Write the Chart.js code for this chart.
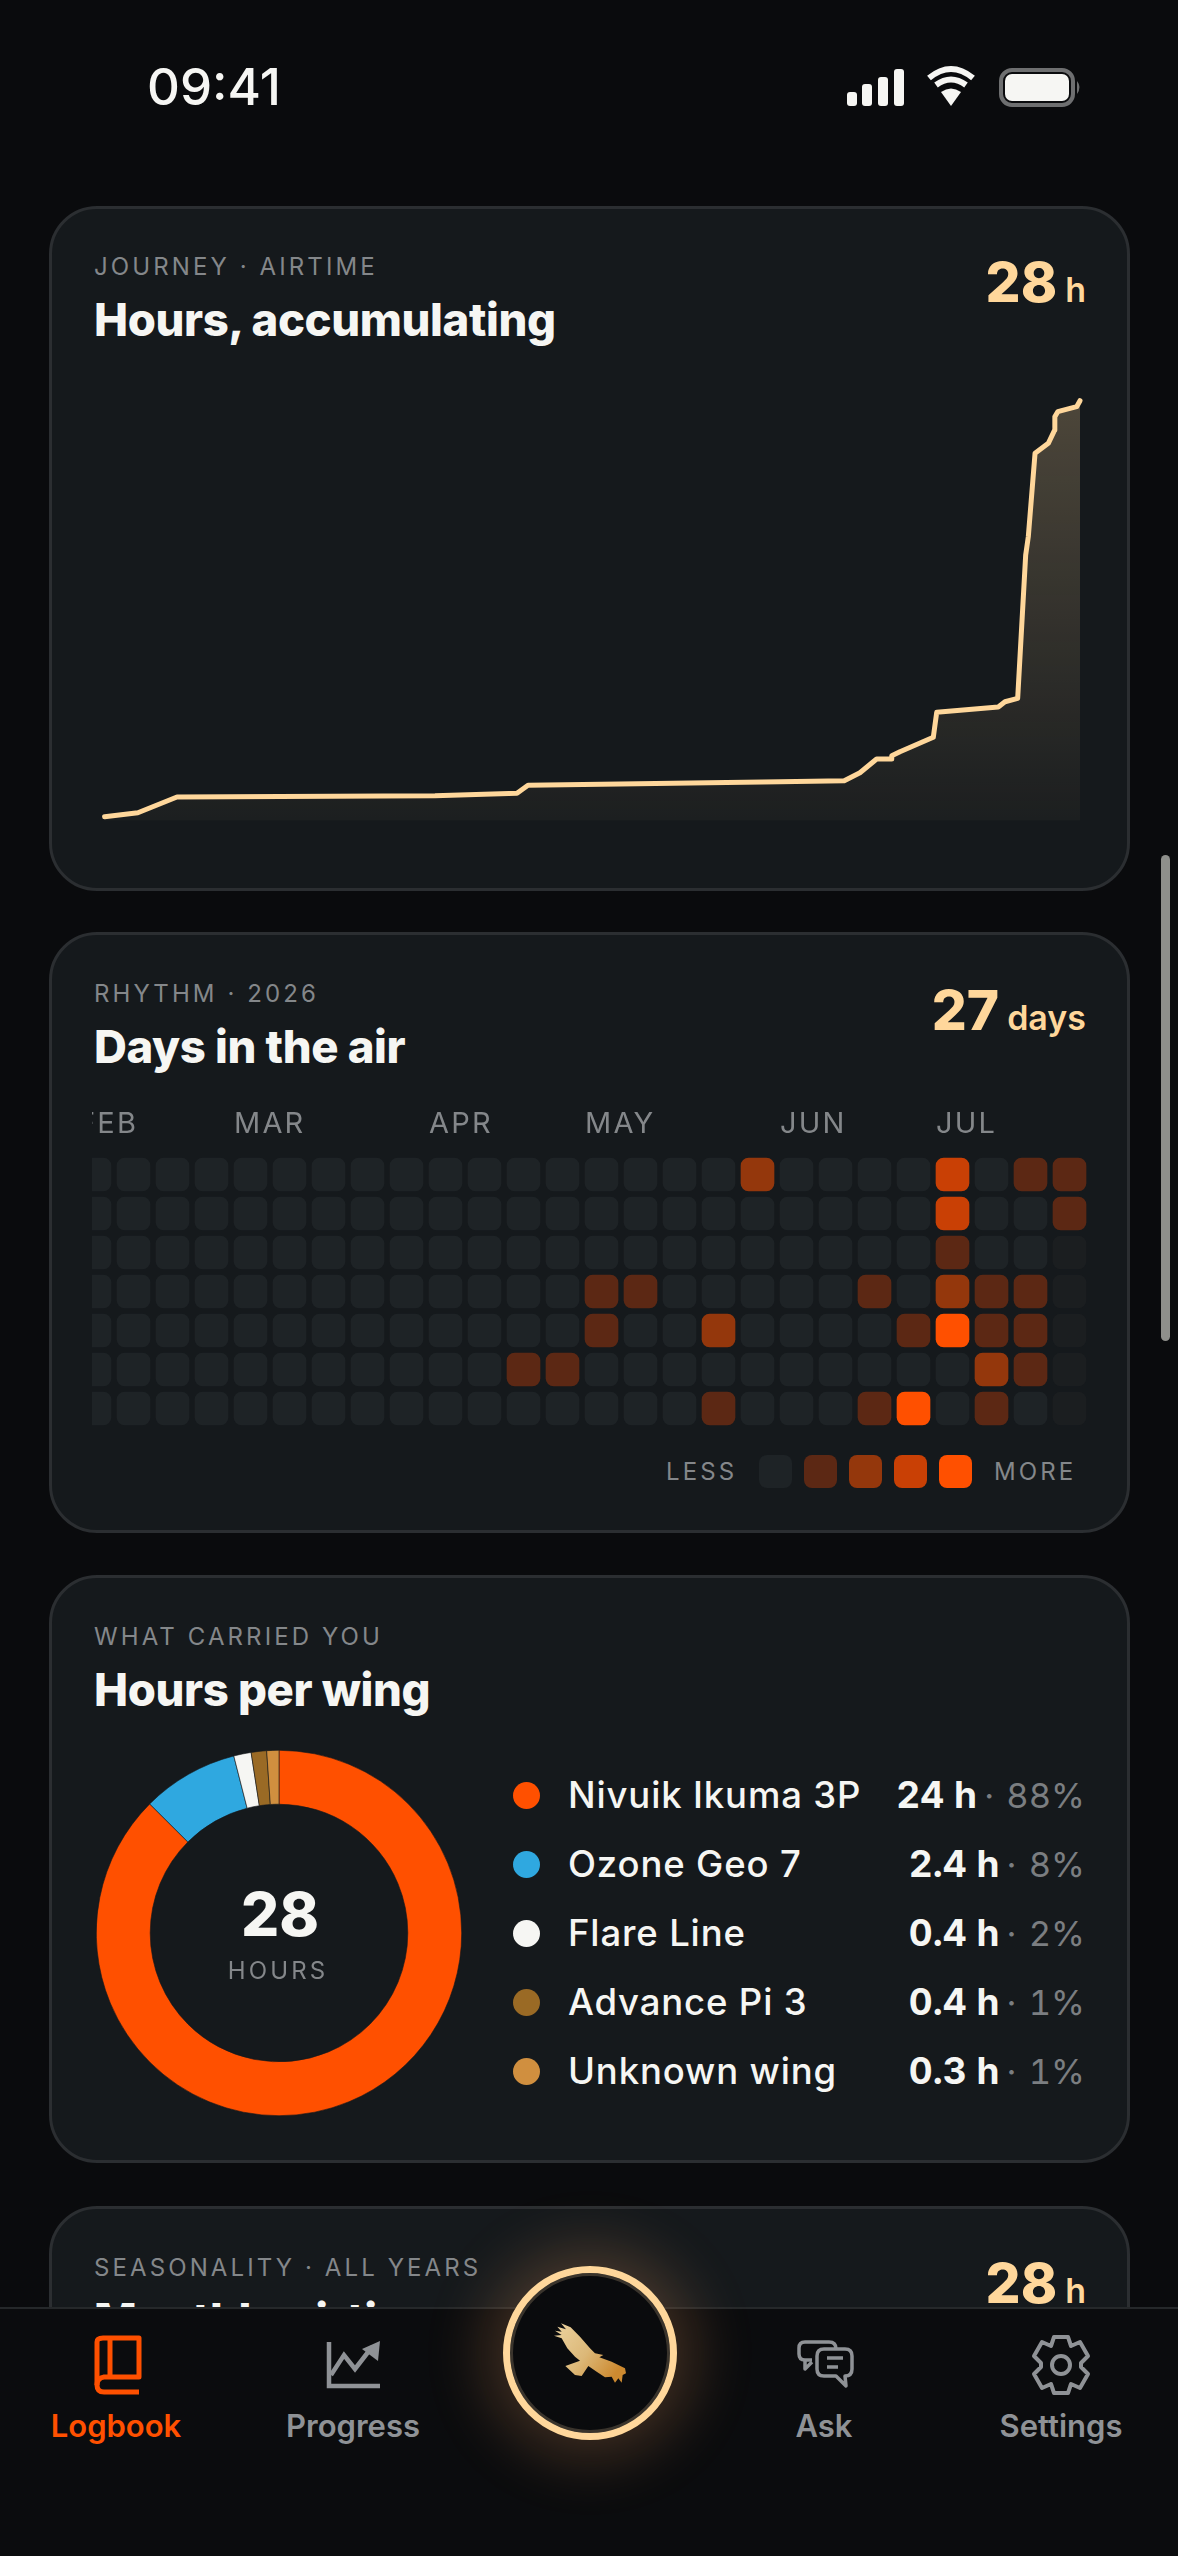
<!DOCTYPE html>
<html>
<head>
<meta charset="utf-8">
<title>Logbook</title>
<script src="https://cdn.jsdelivr.net/npm/chart.js@4/dist/chart.umd.min.js"></script>
<style>
  html, body { margin: 0; padding: 0; background: #0a0b0d; }
  #stage { position: relative; width: 1178px; height: 2556px; overflow: hidden; background: #0a0b0d; font-family: Inter, sans-serif; color: #f6f6f3; }
  .card { position: absolute; left: 49px; width: 1075px; background: #15191c; border: 3px solid #2b2e31; border-radius: 48px; }
  .t { position: absolute; line-height: 0; white-space: nowrap; margin: 0; }
  .eyebrow { left: 94px; font-size: 24px; letter-spacing: 3.1px; color: #84878a; font-weight: 400; }
  .title { left: 94px; font-size: 45.5px; font-weight: 800; letter-spacing: -0.4px; }
  .big { right: 92px; font-size: 55px; font-weight: 800; color: #ffd79b; }
  .big small { font-size: 34px; font-weight: 600; margin-left: 8px; }
  canvas { position: absolute; display: block; }
  #heatClip { position: absolute; left: 92px; top: 1100px; width: 1010px; height: 340px; overflow: hidden; }
  #heatChart { left: -17px; top: 0; }
  .swatch { position: absolute; top: 1455px; width: 33px; height: 33px; border-radius: 8px; }
  .lg { font-size: 24px; letter-spacing: 3.1px; color: #84878a; }
  .dot { position: absolute; left: 513px; width: 27px; height: 27px; border-radius: 50%; }
  .wing { left: 568px; font-size: 36.5px; font-weight: 500; letter-spacing: 0.85px; }
  .val { right: 93px; font-size: 37px; font-weight: 700; font-variant-numeric: tabular-nums; }
  .val span { font-size: 34.5px; font-weight: 400; color: #7b7e81; margin-left: 7px; }
  .val span b { font-weight: 400; margin-right: 3px; }
  #nav { position: absolute; left: 0; top: 2307px; width: 1178px; height: 249px; background: #0b0c0e; border-top: 2px solid #25282a; box-sizing: border-box; }
  #scroll { position: absolute; left: 1161px; top: 855px; width: 9px; height: 486px; border-radius: 5px; background: #8e8f8b; }
  #fab { position: absolute; left: 503px; top: 2266px; width: 174px; height: 174px; box-sizing: border-box; border-radius: 50%; background: #0a0b0d; border: 7px solid #ffd79b; box-shadow: 0 0 60px 18px rgba(255, 170, 100, .22), inset 0 0 0 3px #3a342c; }
  .tab { top: 2426px; font-size: 31px; font-weight: 600; color: #8f9296; transform: translateX(-50%); }
  svg { position: absolute; overflow: visible; }
</style>
</head>
<body>
<div id="stage">
  <div class="t" style="left:147px;top:87px;font-size:51px;font-weight:500;">09:41</div>
  <svg style="left:0;top:0" width="1178" height="120">
    <g fill="#f6f6f3">
      <rect x="847" y="92" width="10" height="14" rx="3"/><rect x="862" y="84" width="10" height="22" rx="3"/>
      <rect x="878" y="77" width="10" height="29" rx="3"/><rect x="894" y="69" width="10" height="37" rx="3"/>
      <path d="M951 106 L941 92 Q951 85 961 92 Z"/>
    </g>
    <g fill="none" stroke="#f6f6f3" stroke-width="6">
      <path d="M936 85 Q951 74 966 85"/><path d="M929 78 Q951 60 973 78"/>
    </g>
    <rect x="1001" y="70" width="72" height="35" rx="11" fill="none" stroke="#6e6f70" stroke-width="4"/>
    <rect x="1005" y="74" width="64" height="27" rx="7" fill="#f6f6f3"/>
    <path d="M1077 81 Q1082 87 1077 94 Z" fill="#6e6f70"/>
  </svg>

  <div class="card" style="top:206px;height:679px;"></div>
  <div class="t eyebrow" style="top:267px;">JOURNEY · AIRTIME</div>
  <div class="t title" style="top:320px;">Hours, accumulating</div>
  <div class="t big" style="top:282px;">28<small>h</small></div>
  <canvas id="hoursChart" style="left:60px;top:380px;" width="1060" height="460"></canvas>

  <div class="card" style="top:932px;height:595px;"></div>
  <div class="t eyebrow" style="top:994px;">RHYTHM · 2026</div>
  <div class="t title" style="top:1047px;">Days in the air</div>
  <div class="t big" style="top:1010px;">27<small>days</small></div>
  <div id="heatClip"><canvas id="heatChart" width="1014" height="328"></canvas></div>
  <div class="t lg" style="left:666px;top:1472px;">LESS</div>
  <div class="swatch" style="left:759px;background:#1e2326"></div>
  <div class="swatch" style="left:804px;background:#5c2814"></div>
  <div class="swatch" style="left:849px;background:#94370c"></div>
  <div class="swatch" style="left:894px;background:#c94005"></div>
  <div class="swatch" style="left:939px;background:#ff5000"></div>
  <div class="t lg" style="left:994px;top:1472px;">MORE</div>

  <div class="card" style="top:1575px;height:582px;"></div>
  <div class="t eyebrow" style="top:1637px;">WHAT CARRIED YOU</div>
  <div class="t title" style="top:1690px;">Hours per wing</div>
  <canvas id="wingChart" style="left:86px;top:1740px;" width="386" height="386"></canvas>
  <div class="t" style="left:280px;top:1914px;font-size:60px;font-weight:800;transform:translateX(-50%);">28</div>
  <div class="t" style="left:278px;top:1971px;font-size:24px;letter-spacing:3.1px;color:#84878a;transform:translateX(-50%);">HOURS</div>
  <div id="wingLegend"></div>

  <div class="card" style="top:2206px;height:500px;"></div>
  <div class="t eyebrow" style="top:2268px;">SEASONALITY · ALL YEARS</div>
  <div class="t title" style="top:2320px;">Monthly airtime</div>
  <div class="t big" style="top:2283px;">28<small>h</small></div>

  <div id="scroll"></div>
  <div id="nav"></div>
  <div id="fab"></div>
  <svg style="left:480px;top:2240px" width="220" height="220" viewBox="0 0 660 660">
    <defs><linearGradient id="birdFill" x1="0" y1="0" x2="1" y2="0.6">
      <stop offset="0" stop-color="#ecd3a0"/><stop offset="0.55" stop-color="#dcb878"/><stop offset="1" stop-color="#cd8a30"/>
    </linearGradient></defs>
    <path fill="url(#birdFill)" d="M243 250 L272 262 L300 290 L330 325 L345 340 L370 345 L358 352 L395 365 L435 385 L438 400 L428 405 L425 428 L415 415 L405 428 L395 410 L375 412 L350 395 L325 378 L305 408 L285 405 L256 378 L300 362 L285 350 L262 325 L245 295 L222 287 L245 285 L225 272 L245 275 L232 260 L258 268 Z"/>
  </svg>

  <svg style="left:0;top:2307px" width="1178" height="110">
    <g fill="none" stroke="#ff5000" stroke-width="5" stroke-linejoin="round">
      <path d="M97 35 Q97 31 103 31 L139 31 L139 70 L104 70 Q97 71 97 78 Q97 85 104 85 L139 85"/>
      <path d="M97 35 L97 78"/><path d="M110 31 L110 70"/>
    </g>
    <g fill="none" stroke="#8f9296" stroke-width="4.5" stroke-linejoin="miter">
      <path d="M329 35 L329 79 L380 79"/>
      <path d="M331 68 L344 48 L355 62 L372 40"/>
    </g>
    <path d="M362 42 L380 34 L378 54 Z" fill="#8f9296"/>
    <g fill="none" stroke="#8f9296" stroke-width="3.5" stroke-linejoin="round">
      <path d="M812 53 L805 53 Q799 53 799 47 L799 41 Q799 35 805 35 L829 35 Q836 35 836 42"/>
      <path d="M805 53 L805 62 L812 55"/>
      <path d="M824 42 L845 42 Q852 42 852 49 L852 62 Q852 69 845 69 L846 79 L836 69 L824 69 Q817 69 817 62 L817 49 Q817 42 824 42 Z"/>
      <path d="M827 51 L843 51 M827 60 L838 60"/>
    </g>
    <g fill="none" stroke="#8f9296" stroke-width="4" stroke-linejoin="round">
      <circle cx="1061" cy="58" r="9"/>
      <path d="M1054 30 L1068 30 L1071 39 L1080 35 L1088 49 L1081 56 L1081 60 L1088 67 L1080 81 L1071 77 L1068 86 L1054 86 L1051 77 L1042 81 L1034 67 L1041 60 L1041 56 L1034 49 L1042 35 L1051 39 Z"/>
    </g>
  </svg>
  <div class="t tab" style="left:116px;color:#ff5000;">Logbook</div>
  <div class="t tab" style="left:353px;">Progress</div>
  <div class="t tab" style="left:824px;">Ask</div>
  <div class="t tab" style="left:1061px;">Settings</div>
</div>

<script>
// airtime curve, x = percent of the logbook span, y = cumulative hours
const journeyPos = [0, 3.41, 7.42, 33.87, 42.28, 43.41, 52.84, 69.24, 75.83, 77.44, 79.15, 80.69, 80.7, 81.54, 84.96, 85.31, 91.62, 92.31, 93.61, 94.43, 94.7, 95.39, 96.75, 97.41, 97.42, 97.72, 99.66, 100];
const journeyHours = [0.27, 0.53, 1.58, 1.67, 1.83, 2.36, 2.45, 2.6, 2.67, 3.2, 4.11, 4.11, 4.33, 4.6, 5.56, 7.23, 7.58, 7.93, 8.16, 17.71, 18.93, 24.49, 25.16, 26.05, 26.93, 27.27, 27.6, 28];

// heatmap: one array per weekday row, one entry per week, -1 = not yet happened
const monthTicks = ['FEB', '', '', '', 'MAR', '', '', '', '', 'APR', '', '', '', 'MAY', '', '', '', '', 'JUN', '', '', '', 'JUL', '', '', ''];
const heatRow0 = [0,0,0,0,0,0,0,0,0,0,0,0,0,0,0,0,0,2,0,0,0,0,3,0,1,1];
const heatRow1 = [0,0,0,0,0,0,0,0,0,0,0,0,0,0,0,0,0,0,0,0,0,0,3,0,0,1];
const heatRow2 = [0,0,0,0,0,0,0,0,0,0,0,0,0,0,0,0,0,0,0,0,0,0,1,0,0,-1];
const heatRow3 = [0,0,0,0,0,0,0,0,0,0,0,0,0,1,1,0,0,0,0,0,1,0,2,1,1,-1];
const heatRow4 = [0,0,0,0,0,0,0,0,0,0,0,0,0,1,0,0,2,0,0,0,0,1,4,1,1,-1];
const heatRow5 = [0,0,0,0,0,0,0,0,0,0,0,1,1,0,0,0,0,0,0,0,0,0,0,2,1,-1];
const heatRow6 = [0,0,0,0,0,0,0,0,0,0,0,0,0,0,0,0,1,0,0,0,1,4,0,1,0,-1];
const heatRows = [heatRow0, heatRow1, heatRow2, heatRow3, heatRow4, heatRow5, heatRow6];
const heatColors = { '-1': '#1b1e20', 0: '#1e2326', 1: '#5c2814', 2: '#94370c', 3: '#c94005', 4: '#ff5000' };

// wings
const wingNames = ['Nivuik Ikuma 3P', 'Ozone Geo 7', 'Flare Line', 'Advance Pi 3', 'Unknown wing'];
const wingHours = [24.4, 2.38, 0.43, 0.38, 0.3];
const wingLabels = ['24 h', '2.4 h', '0.4 h', '0.4 h', '0.3 h'];
const wingShares = ['88%', '8%', '2%', '1%', '1%'];
const wingColors = ['#ff5000', '#2fa8e0', '#f6f6f3', '#9a6a25', '#d08f3f'];

const GOLD = '#ffd79b';

document.addEventListener('DOMContentLoaded', function () {
    Chart.defaults.font.family = 'Inter';
    Chart.defaults.devicePixelRatio = 1;
    Chart.defaults.animation = false;
    Chart.defaults.events = [];

    new Chart(document.getElementById('hoursChart'), {
        type: 'line',
        data: {
            datasets: [{
                data: journeyPos.map((x, i) => ({ x: x, y: journeyHours[i] })),
                borderColor: GOLD,
                borderWidth: 5,
                borderCapStyle: 'round',
                borderJoinStyle: 'round',
                pointRadius: 0,
                tension: 0,
                fill: 'origin',
                clip: false,
                backgroundColor: function (ctx) {
                    const area = ctx.chart.chartArea;
                    if (!area) return 'transparent';
                    const g = ctx.chart.ctx.createLinearGradient(0, area.top, 0, area.bottom);
                    g.addColorStop(0, 'rgba(255,215,155,0.24)');
                    g.addColorStop(1, 'rgba(255,215,155,0.03)');
                    return g;
                }
            }]
        },
        options: {
            responsive: false,
            layout: { padding: { left: 44.6, right: 40, top: 20.7, bottom: 19.3 } },
            plugins: { legend: { display: false }, tooltip: { enabled: false } },
            scales: {
                x: { type: 'linear', display: false, min: 0, max: 100 },
                y: { display: false, min: 0, max: 28 }
            }
        }
    });

    new Chart(document.getElementById('heatChart'), {
        type: 'bar',
        data: {
            labels: monthTicks,
            datasets: heatRows.map((row, r) => ({
                data: row.map(() => [r + 0.077, r + 0.923]),
                backgroundColor: row.map(v => heatColors[v]),
                barThickness: 33,
                borderRadius: 8,
                borderSkipped: false,
                grouped: false
            }))
        },
        options: {
            responsive: false,
            layout: { padding: 0 },
            plugins: { legend: { display: false }, tooltip: { enabled: false } },
            scales: {
                x: {
                    position: 'top',
                    offset: true,
                    grid: { display: false },
                    border: { display: false },
                    ticks: {
                        autoSkip: false,
                        maxRotation: 0,
                        align: 'start',
                        labelOffset: -16.5,
                        padding: 5,
                        color: '#84878a',
                        font: { size: 29, family: 'Inter' }
                    },
                    afterFit: s => { s.height = 55; s.paddingLeft = 0; s.paddingRight = 0; }
                },
                y: { display: false, reverse: true, min: 0, max: 7 }
            }
        },
        plugins: [{
            id: 'tickSpacing',
            beforeDraw: chart => { chart.ctx.letterSpacing = '2.2px'; }
        }]
    });

    new Chart(document.getElementById('wingChart'), {
        type: 'doughnut',
        data: {
            labels: wingNames,
            datasets: [{
                data: wingHours,
                backgroundColor: wingColors,
                borderColor: '#15191c',
                borderWidth: 0.6
            }]
        },
        options: {
            responsive: false,
            cutout: '70.5%',
            layout: { padding: 10 },
            plugins: { legend: { display: false }, tooltip: { enabled: false } }
        }
    });

    // legend rows sit beside the ring
    const legend = document.getElementById('wingLegend');
    wingNames.forEach((name, i) => {
        const y = 1795 + i * 69;
        legend.insertAdjacentHTML('beforeend',
            `<div class="dot" style="top:${y - 13.5}px;background:${wingColors[i]}"></div>` +
            `<div class="t wing" style="top:${y}px">${name}</div>` +
            `<div class="t val" style="top:${y}px">${wingLabels[i]}<span><b>·</b> ${wingShares[i]}</span></div>`);
    });
});
</script>
</body>
</html>
